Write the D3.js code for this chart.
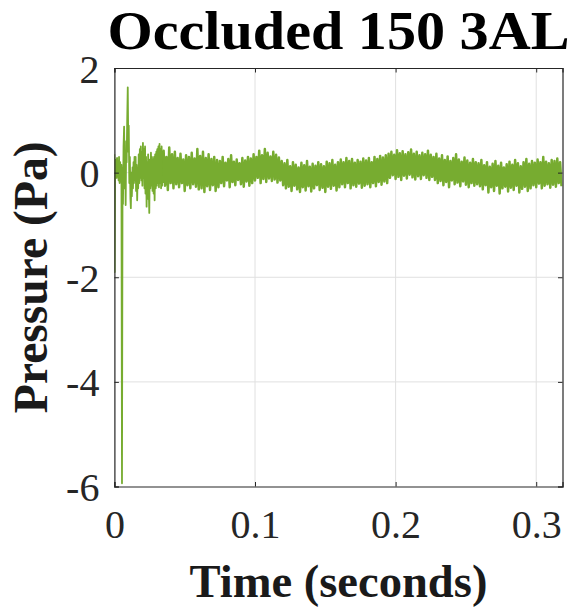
<!DOCTYPE html>
<html>
<head>
<meta charset="utf-8">
<script src="https://cdn.jsdelivr.net/npm/d3@7"></script>
<style>
  html, body { margin: 0; padding: 0; background: #fff; }
  svg { display: block; }
</style>
</head>
<body>
<script>
// ---------------- DATA ----------------
const titleText = "Occluded 150 3AL";
const xLabelText = "Time (seconds)";
const yLabelText = "Pressure (Pa)";
const xTicks = [0, 0.1, 0.2, 0.3];
const xTickLabels = ["0", "0.1", "0.2", "0.3"];
const yTicks = [-6, -4, -2, 0, 2];
const yTickLabels = ["-6", "-4", "-2", "0", "2"];
const xDomain = [0, 0.3187];
const yDomain = [-6, 2];

// Initial transient (time s, pressure Pa)
const transientT = [0.0000,0.0002,0.0005,0.0009,0.0012,0.0016,0.0019,0.0023,0.0026,0.0030,
  0.0033,0.0037,0.0041,0.0045,0.0050,0.0054,0.0058,0.0061,0.0065,0.0069,
  0.0073,0.0077,0.0080,0.0084,0.0087,0.0091,0.0095,0.0099,0.0102,0.0106,
  0.0110,0.0114,0.0117,0.0121,0.0124,0.0129,0.0132,0.0136,0.0139,0.0143,
  0.0147,0.0151,0.0154,0.0158,0.0162,0.0166,0.0169,0.0173,0.0177,0.0181,
  0.0184,0.0188,0.0192,0.0196,0.0199,0.0203,0.0206,0.0210,0.0214,0.0218,
  0.0221,0.0225,0.0229,0.0233,0.0236,0.0240,0.0248,0.0252,0.0256,0.0260,
  0.0263,0.0267,0.0271,0.0275,0.0279,0.0282,0.0286,0.0290,0.0294,0.0298,
  0.0302,0.0305,0.0309,0.0313,0.0317,0.0321,0.0324,0.0328,0.0332,0.0336,
  0.0339,0.0343,0.0347];
const transientP = [0.35,-1.90,0.20,-0.05,0.25,-0.10,0.28,-0.05,0.22,-0.15,
  0.30,-0.20,0.20,-0.10,0.15,-5.94,0.10,-0.60,0.50,0.88,
  -0.30,0.30,-0.62,0.60,0.20,1.00,1.63,0.40,0.90,-0.20,
  0.30,-0.50,-0.68,0.00,-0.45,0.10,-0.30,0.20,-0.20,0.30,
  -0.15,0.30,-0.35,0.15,-0.53,0.10,-0.30,0.35,-0.20,0.45,
  -0.10,0.50,-0.15,0.40,-0.25,0.57,-0.10,0.45,-0.30,0.50,
  -0.40,0.30,-0.65,0.20,-0.50,0.35,-0.77,0.25,-0.30,0.38,
  -0.25,0.30,-0.35,0.25,-0.40,0.30,-0.53,0.35,-0.30,0.40,
  -0.25,0.45,-0.20,0.50,-0.28,0.55,-0.20,0.45,-0.30,0.50,
  -0.25,0.40,-0.20];

// Steady noisy part: upper / lower excursions every 2 ms from 0.035 s
const noiseStart = 0.035;
const noiseStep = 0.002;
const noiseHi = [0.42,0.30,0.48,0.35,0.40,
  0.28,0.36,0.25,0.33,0.30,0.38,0.27,0.45,
  0.32,0.40,0.28,0.35,0.26,0.30,0.24,
  0.22,0.30,0.19,0.26,0.33,0.21,0.25,0.18,0.28,0.23,0.30,0.27,
  0.35,0.30,0.42,0.33,0.45,0.38,0.31,0.40,0.34,0.29,
  0.22,0.18,0.24,0.12,0.20,0.15,0.10,0.19,0.14,0.22,0.11,0.17,0.13,0.20,0.16,0.12,0.21,0.18,0.24,0.15,0.20,
  0.25,0.20,0.28,0.22,0.26,0.19,0.24,0.21,0.27,0.23,0.28,0.20,0.30,0.26,0.32,0.29,0.33,
  0.36,0.40,0.34,0.43,0.37,0.41,0.35,0.39,0.44,0.36,0.40,0.33,0.38,0.35,0.42,0.34,
  0.30,0.36,0.27,0.33,0.24,0.31,0.22,0.28,0.35,0.25,0.21,0.29,0.23,0.19,0.26,0.20,
  0.18,0.24,0.14,0.20,0.11,0.17,0.22,0.13,0.19,0.10,0.16,0.21,0.15,0.24,0.18,0.12,0.20,0.26,0.17,
  0.22,0.19,0.25,0.20,0.30,0.21,0.18,0.24,0.22,0.27,0.20];
const noiseLo = [-0.25,-0.33,-0.20,-0.30,-0.22,
  -0.28,-0.20,-0.35,-0.24,-0.30,-0.22,-0.27,-0.32,
  -0.30,-0.37,-0.26,-0.33,-0.24,-0.35,-0.28,
  -0.20,-0.26,-0.15,-0.28,-0.18,-0.24,-0.14,-0.22,-0.27,-0.17,-0.25,-0.20,
  -0.15,-0.10,-0.20,-0.12,-0.18,-0.11,-0.16,-0.13,-0.19,-0.15,
  -0.24,-0.30,-0.27,-0.35,-0.25,-0.32,-0.37,-0.28,-0.34,-0.26,-0.36,-0.30,-0.24,-0.33,-0.29,-0.37,-0.27,-0.31,-0.25,-0.34,-0.28,
  -0.22,-0.28,-0.20,-0.30,-0.24,-0.27,-0.21,-0.29,-0.25,-0.22,-0.28,-0.20,-0.26,-0.18,-0.23,-0.17,-0.20,
  -0.10,-0.05,-0.12,-0.08,-0.14,-0.06,-0.11,-0.04,-0.09,-0.13,-0.07,-0.12,-0.05,-0.10,-0.14,-0.08,
  -0.14,-0.20,-0.16,-0.24,-0.18,-0.28,-0.15,-0.22,-0.19,-0.26,-0.17,-0.23,-0.28,-0.20,-0.25,-0.22,
  -0.26,-0.32,-0.24,-0.38,-0.28,-0.35,-0.25,-0.40,-0.30,-0.27,-0.36,-0.29,-0.33,-0.25,-0.38,-0.31,-0.27,-0.35,-0.30,
  -0.24,-0.28,-0.21,-0.30,-0.25,-0.22,-0.29,-0.23,-0.27,-0.20,-0.26];

// ---------------- LAYOUT ----------------
const W = 576, H = 613;
const plot = { left: 114.4, right: 562.5, top: 68, bottom: 486.5 };
const axisColor = "#262626";
const lineColor = "#77ac30";
const serif = "'Liberation Serif','Tinos','Times New Roman','DejaVu Serif Condensed','DejaVu Serif',serif";

const svg = d3.select("body").append("svg")
  .attr("width", W).attr("height", H)
  .attr("viewBox", `0 0 ${W} ${H}`);

const x = d3.scaleLinear().domain(xDomain).range([plot.left, plot.right]);
const y = d3.scaleLinear().domain(yDomain).range([plot.bottom, plot.top]);

// scale a text's font size so that its advance width matches a target width
function fitWidth(sel, target, startSize) {
  sel.style("font-size", startSize + "px");
  const w = sel.node().getComputedTextLength();
  const size = w > 0 ? startSize * target / w : startSize;
  sel.style("font-size", size + "px");
  return size;
}

// grid
const grid = svg.append("g").attr("stroke", "#e0e0e0").attr("stroke-width", 1);
xTicks.filter(t => t > xDomain[0] && t < xDomain[1]).forEach(t => {
  grid.append("line").attr("x1", x(t)).attr("x2", x(t))
    .attr("y1", plot.top).attr("y2", plot.bottom);
});
yTicks.filter(t => t > yDomain[0] && t < yDomain[1]).forEach(t => {
  grid.append("line").attr("x1", plot.left).attr("x2", plot.right)
    .attr("y1", y(t)).attr("y2", y(t));
});

// data
svg.append("clipPath").attr("id", "clip").append("rect")
  .attr("x", plot.left).attr("y", plot.top)
  .attr("width", plot.right - plot.left).attr("height", plot.bottom - plot.top);
const lineGen = d3.line().x(d => x(d[0])).y(d => y(d[1]));

const transPts = transientT.map((t, i) => [t, transientP[i]]);
const noisePts = [transPts[transPts.length - 1]];
const n = Math.min(noiseHi.length, noiseLo.length);
for (let i = 0; i < n; i++) {
  const t = noiseStart + i * noiseStep;
  noisePts.push([t, noiseHi[i]]);
  noisePts.push([t + noiseStep / 2, noiseLo[i]]);
}
const dataG = svg.append("g").attr("clip-path", "url(#clip)");
dataG.append("path").datum(transPts)
  .attr("fill", "none").attr("stroke", lineColor)
  .attr("stroke-width", 1.8).attr("stroke-linejoin", "round")
  .attr("d", lineGen);
dataG.append("path").datum(noisePts)
  .attr("fill", "none").attr("stroke", lineColor)
  .attr("stroke-width", 2.5).attr("stroke-linejoin", "round")
  .attr("d", lineGen);

// axes (D3 axes, ticks inward)
const tickLen = 4.5;
const xAxisB = d3.axisBottom(x).tickValues(xTicks).tickSize(-tickLen).tickFormat((d, i) => xTickLabels[i]);
const xAxisT = d3.axisTop(x).tickValues(xTicks).tickSize(-tickLen).tickFormat("");
const yAxisL = d3.axisLeft(y).tickValues(yTicks).tickSize(-tickLen).tickFormat((d, i) => yTickLabels[i]);
const yAxisR = d3.axisRight(y).tickValues(yTicks).tickSize(-tickLen).tickFormat("");

function styleAxis(g) {
  g.select(".domain").attr("stroke", axisColor).attr("stroke-width", 1.2).attr("fill", "none");
  g.selectAll(".tick line").attr("stroke", axisColor).attr("stroke-width", 1);
  g.selectAll(".tick text").attr("fill", axisColor).style("font-family", serif);
}
const gxB = svg.append("g").attr("transform", `translate(0,${plot.bottom})`).call(xAxisB).call(styleAxis);
svg.append("g").attr("transform", `translate(0,${plot.top})`).call(xAxisT).call(styleAxis);
const gyL = svg.append("g").attr("transform", `translate(${plot.left},0)`).call(yAxisL).call(styleAxis);
svg.append("g").attr("transform", `translate(${plot.right},0)`).call(yAxisR).call(styleAxis);

// tick label size: make "0.1" about 50 px wide (as in the reference)
const probe = gxB.selectAll(".tick text").filter((d, i) => xTickLabels[i] === "0.1");
const tickSize = fitWidth(probe, 50, 39);
svg.selectAll(".tick text").style("font-size", tickSize + "px");
gxB.selectAll(".tick text").attr("y", 51.5).attr("dy", null);
gyL.selectAll(".tick text").attr("x", -15).attr("dy", "0.35em");

// texts
const cx = (plot.left + plot.right) / 2;
svg.append("text").attr("x", cx).attr("y", 49)
  .attr("text-anchor", "middle").attr("fill", "#000")
  .attr("textLength", 462).attr("lengthAdjust", "spacingAndGlyphs")
  .style("font-family", serif).style("font-weight", "bold").style("font-size", "55px")
  .text(titleText);
const xl = svg.append("text").attr("x", cx).attr("y", 597)
  .attr("text-anchor", "middle").attr("fill", "#1a1a1a")
  .style("font-family", serif).style("font-weight", "bold")
  .text(xLabelText);
fitWidth(xl, 298, 46.5);
const yl = svg.append("text")
  .attr("transform", `translate(47,${(plot.top + plot.bottom) / 2}) rotate(-90)`)
  .attr("text-anchor", "middle").attr("fill", "#1a1a1a")
  .style("font-family", serif).style("font-weight", "bold")
  .text(yLabelText);
fitWidth(yl, 272, 47);
</script>
</body>
</html>
